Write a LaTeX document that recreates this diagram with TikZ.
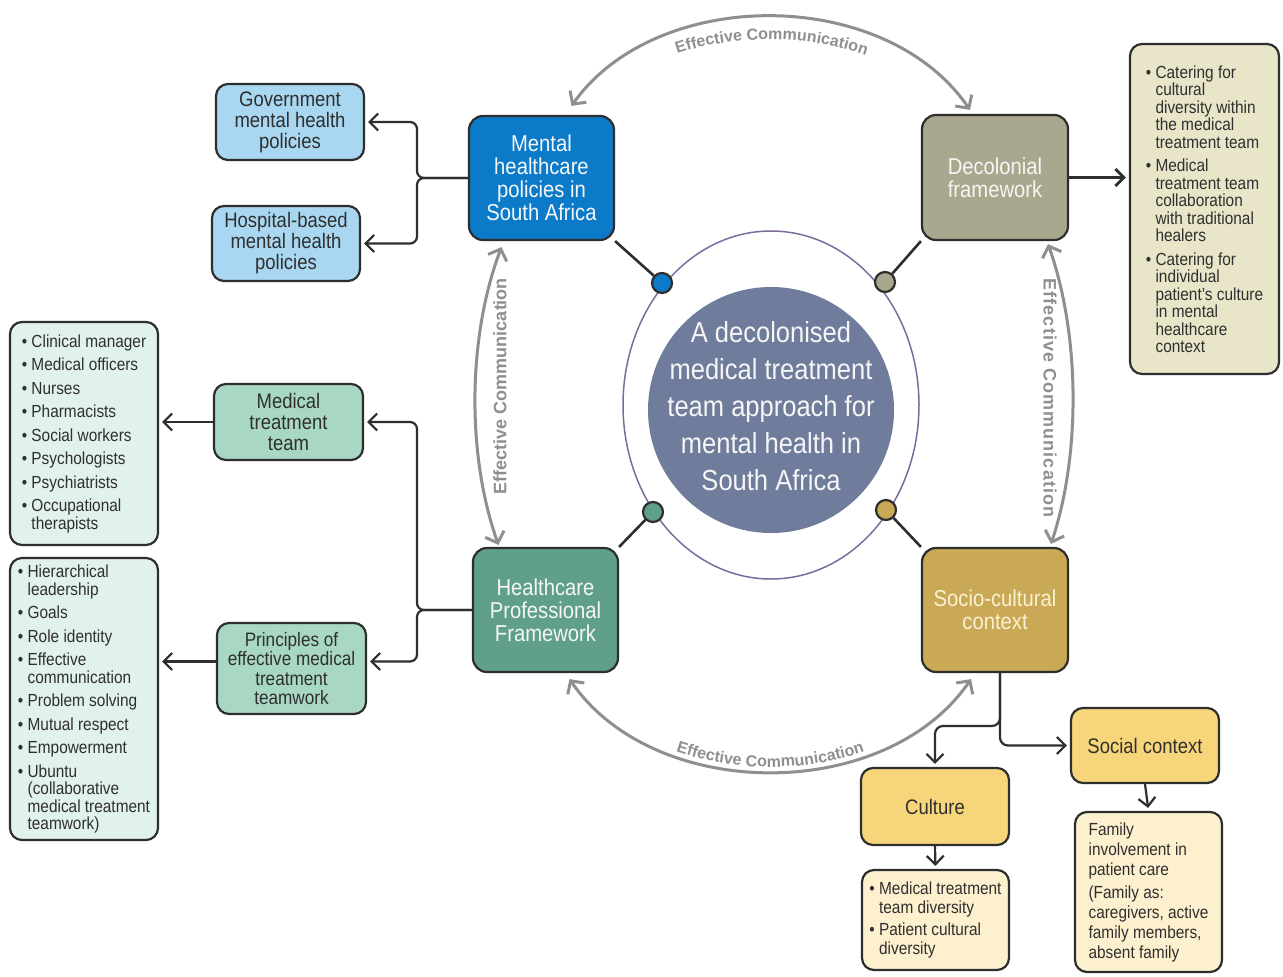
\documentclass[tikz,border=0pt]{standalone}
\usepackage{fontspec}
\setmainfont{Liberation Sans}[FakeStretch=0.88]
\newfontfamily\commfont{Liberation Sans}
\usetikzlibrary{arrows.meta,decorations.text,shapes.geometric}

\definecolor{cblue}{HTML}{0B7BC9}
\definecolor{colive}{HTML}{A9A78D}
\definecolor{cteal}{HTML}{5F9F8B}
\definecolor{cmust}{HTML}{C9A955}
\definecolor{lblue}{HTML}{A9D6F0}
\definecolor{lgreen}{HTML}{A8D8C3}
\definecolor{pgreen}{HTML}{E1F1EB}
\definecolor{pbeige}{HTML}{E8E5C9}
\definecolor{yel}{HTML}{F7D67B}
\definecolor{cream}{HTML}{FDF0CF}
\definecolor{cmid}{HTML}{6F7C9C}
\definecolor{cring}{HTML}{7D6C9B}
\definecolor{linec}{HTML}{2E2E2E}
\definecolor{commc}{HTML}{8F8F8F}
\definecolor{txt}{HTML}{2F2F2F}
\definecolor{wtxt}{HTML}{F6F6F6}
\definecolor{ytxt}{HTML}{FAF1D2}

\newcommand\lbul{\textbullet\ }
\newcommand\lind{\phantom{\textbullet\ }}

\pgfdeclarelayer{bg}
\pgfsetlayers{bg,main}

\begin{document}
\begin{tikzpicture}[x=1pt,y=-1pt,
  box/.style={draw=linec, line width=2.2pt, rounded corners=14pt, align=center, inner sep=3pt},
  hd/.style={box, text=wtxt, font=\fontsize{23}{23}\selectfont},
  sub/.style={box, rounded corners=12pt, text=txt, font=\fontsize{21}{21}\selectfont},
  lst/.style={box, rounded corners=12pt, align=left, text=txt, font=\fontsize{17.5}{17.5}\selectfont},
  dot/.style={circle, draw=linec, line width=2.2pt, minimum size=20pt, inner sep=0pt},
  link/.style={draw=linec, line width=2.6pt},
  conn/.style={draw=linec, line width=2.2pt, -{Straight Barb[length=8.5pt,width=17pt]}, shorten >=3pt},
  comm/.style={draw=commc, line width=3pt, {Straight Barb[length=9.5pt,width=20pt]}-{Straight Barb[length=9.5pt,width=20pt]}},
  commtxt/.style={font=\commfont\bfseries\fontsize{18}{18}\selectfont, text=commc, inner sep=0pt},
  commpath/.style={decorate, decoration={text along path, text align=center, text color=commc,
      text={|\commfont\bfseries\fontsize{16}{16}\selectfont|Effective Communication}}}
]
\useasboundingbox (0,0) rectangle (1283,977);
\begin{pgfonlayer}{bg}
  \fill[white] (0,0) rectangle (1283,977);
\end{pgfonlayer}

% central hub
\node[ellipse, draw=cring, line width=1.5pt, minimum width=296pt, minimum height=348pt, inner sep=0pt] (ring) at (771,405) {};
\node[circle, fill=cmid, minimum size=246pt, inner sep=0pt] (hub) at (771,410) {};
\node[text=wtxt, align=center, font=\fontsize{29}{37}\selectfont] (hubtxt) at (771,406)
  {A decolonised\\medical treatment\\team approach for\\mental health in\\South Africa};

% four main frameworks
\node[hd, fill=cblue, minimum width=145pt, minimum height=124pt] (mhp) at (541.5,178)
  {Mental\\healthcare\\policies in\\South Africa};
\node[hd, fill=colive, minimum width=146pt, minimum height=125pt] (dec) at (995,177.5)
  {Decolonial\\framework};
\node[hd, fill=cteal, minimum width=145pt, minimum height=124pt] (hpf) at (545.5,610)
  {Healthcare\\Professional\\Framework};
\node[hd, fill=cmust, text=ytxt, minimum width=146pt, minimum height=124pt] (scc) at (995,610)
  {Socio-cultural\\context};

% dots on the ring
\node[dot, fill=cblue] (d1) at (662,283) {};
\node[dot, fill=colive] (d2) at (885,282) {};
\node[dot, fill=cteal] (d3) at (653,512) {};
\node[dot, fill=cmust] (d4) at (886,510) {};

\begin{pgfonlayer}{bg}
  \draw[link] (mhp.south east) -- (d1);
  \draw[link] (dec.south west) -- (d2);
  \draw[link] (hpf.north east) -- (d3);
  \draw[link] (scc.north west) -- (d4);
\end{pgfonlayer}

% policy branch
\node[sub, fill=lblue, minimum width=148pt, minimum height=76pt] (gov) at (290,122)
  {Government\\mental health\\policies};
\node[sub, fill=lblue, minimum width=148pt, minimum height=75pt] (hosp) at (286,243.5)
  {Hospital-based\\mental health\\policies};

% professional branch
\node[sub, fill=lgreen, minimum width=149pt, minimum height=76pt] (mtt) at (288.5,422)
  {Medical\\treatment\\team};
\node[sub, fill=lgreen, minimum width=149pt, minimum height=91pt, font=\fontsize{19.5}{19.5}\selectfont] (pri) at (291.5,668.5)
  {Principles of\\effective medical\\treatment\\teamwork};
\node[lst, fill=pgreen, minimum width=148pt, minimum height=223pt] (lst1) at (84,433.5)
  {\lbul Clinical manager\\[6pt]\lbul Medical officers\\[6pt]\lbul Nurses\\[6pt]\lbul Pharmacists\\[6pt]%
   \lbul Social workers\\[6pt]\lbul Psychologists\\[6pt]\lbul Psychiatrists\\[6pt]\lbul Occupational\\\lind therapists};
\node[lst, fill=pgreen, minimum width=148pt, minimum height=282pt] (lst2) at (84,699)
  {\lbul Hierarchical\\\lind leadership\\[6pt]\lbul Goals\\[6pt]\lbul Role identity\\[6pt]\lbul Effective\\\lind communication\\[6pt]%
   \lbul Problem solving\\[6pt]\lbul Mutual respect\\[6pt]\lbul Empowerment\\[6pt]\lbul Ubuntu\\\lind (collaborative\\\lind medical treatment\\\lind teamwork)};

% decolonial branch
\node[lst, fill=pbeige, minimum width=149pt, minimum height=330pt] (lst3) at (1204.5,209)
  {\lbul Catering for\\\lind cultural\\\lind diversity within\\\lind the medical\\\lind treatment team\\[6pt]%
   \lbul Medical\\\lind treatment team\\\lind collaboration\\\lind with traditional\\\lind healers\\[6pt]%
   \lbul Catering for\\\lind individual\\\lind patient's culture\\\lind in mental\\\lind healthcare\\\lind context};

% socio-cultural branch
\node[sub, fill=yel, minimum width=148pt, minimum height=75pt] (soc) at (1145,745.5) {Social context};
\node[sub, fill=yel, minimum width=148pt, minimum height=77pt] (cul) at (935,806.5) {Culture};
\node[lst, fill=cream, minimum width=147pt, minimum height=100pt, font=\fontsize{17.5}{19.5}\selectfont] (cl) at (935.5,920)
  {\lbul Medical treatment\\\lind team diversity\\[2pt]\lbul Patient cultural\\\lind diversity};
\node[lst, fill=cream, minimum width=147pt, minimum height=160pt, font=\fontsize{17.5}{20}\selectfont] (fam) at (1148.5,892)
  {Family\\involvement in\\patient care\\[3pt](Family as:\\caregivers, active\\family members,\\absent family};

% branching connectors
\coordinate (b1) at (417,178);
\coordinate (b2) at (417,610);
\coordinate (b3) at (1000,726);
\draw[conn, rounded corners=7pt] (mhp.west) -- (b1) |- (gov.east);
\draw[conn, rounded corners=7pt] (mhp.west) -- (b1) |- (hosp.east);
\draw[conn, rounded corners=7pt] (hpf.west) -- (b2) |- (mtt.east);
\draw[conn, rounded corners=7pt] (hpf.west) -- (b2) |- ([yshift=7pt]pri.east);
\draw[conn] (mtt.west) -- (mtt.west -| lst1.east);
\draw[conn] ([yshift=7pt]pri.west) -- ([yshift=7pt]pri.west -| lst2.east);
\draw[conn, line width=2.8pt] (dec.east) -- (dec.east -| lst3.west);
\draw[conn, rounded corners=8pt] ([xshift=5pt]scc.south) |- (soc.west);
\draw[conn, rounded corners=8pt] ([xshift=5pt]scc.south) -- (b3) -| (cul.north);
\draw[conn] (cul.south) -- (cl.north);
\draw[conn] (soc.south) -- (fam.north);

% effective communication arcs, with their labels set on parallel guide curves
\draw[comm] ([xshift=30pt,yshift=9pt]mhp.north) .. controls +(85,-120) and +(-85,-124) .. ([xshift=-25pt,yshift=4pt]dec.north);
\path[commpath] ([xshift=30pt,yshift=-14pt]mhp.north) .. controls +(85,-120) and +(-85,-124) .. ([xshift=-25pt,yshift=-19pt]dec.north);

\draw[comm] ([xshift=24pt,yshift=-6pt]hpf.south) .. controls +(85,124) and +(-85,124) .. ([xshift=-24pt,yshift=-6pt]scc.south);
\path[commpath] ([xshift=24pt,yshift=-1pt]hpf.south) .. controls +(85,124) and +(-85,124) .. ([xshift=-24pt,yshift=-1pt]scc.south);

\draw[comm] ([xshift=-47pt,yshift=2pt]hpf.north) .. controls +(-32,-90) and +(-34,90) .. ([xshift=-40pt,yshift=-6pt]mhp.south);
\node[commtxt, rotate=90] (ecl) at (500,386) {Effective Communication};

\draw[comm] ([xshift=53pt,yshift=-3pt]dec.south) .. controls +(32,90) and +(30,-90) .. ([xshift=56pt,yshift=3pt]scc.north);
\node[commtxt, rotate=-90, font=\commfont\bfseries\fontsize{18}{18}\selectfont\addfontfeatures{LetterSpace=6}] (ecr) at (1050,398) {Effective Communication};
\end{tikzpicture}
\end{document}
